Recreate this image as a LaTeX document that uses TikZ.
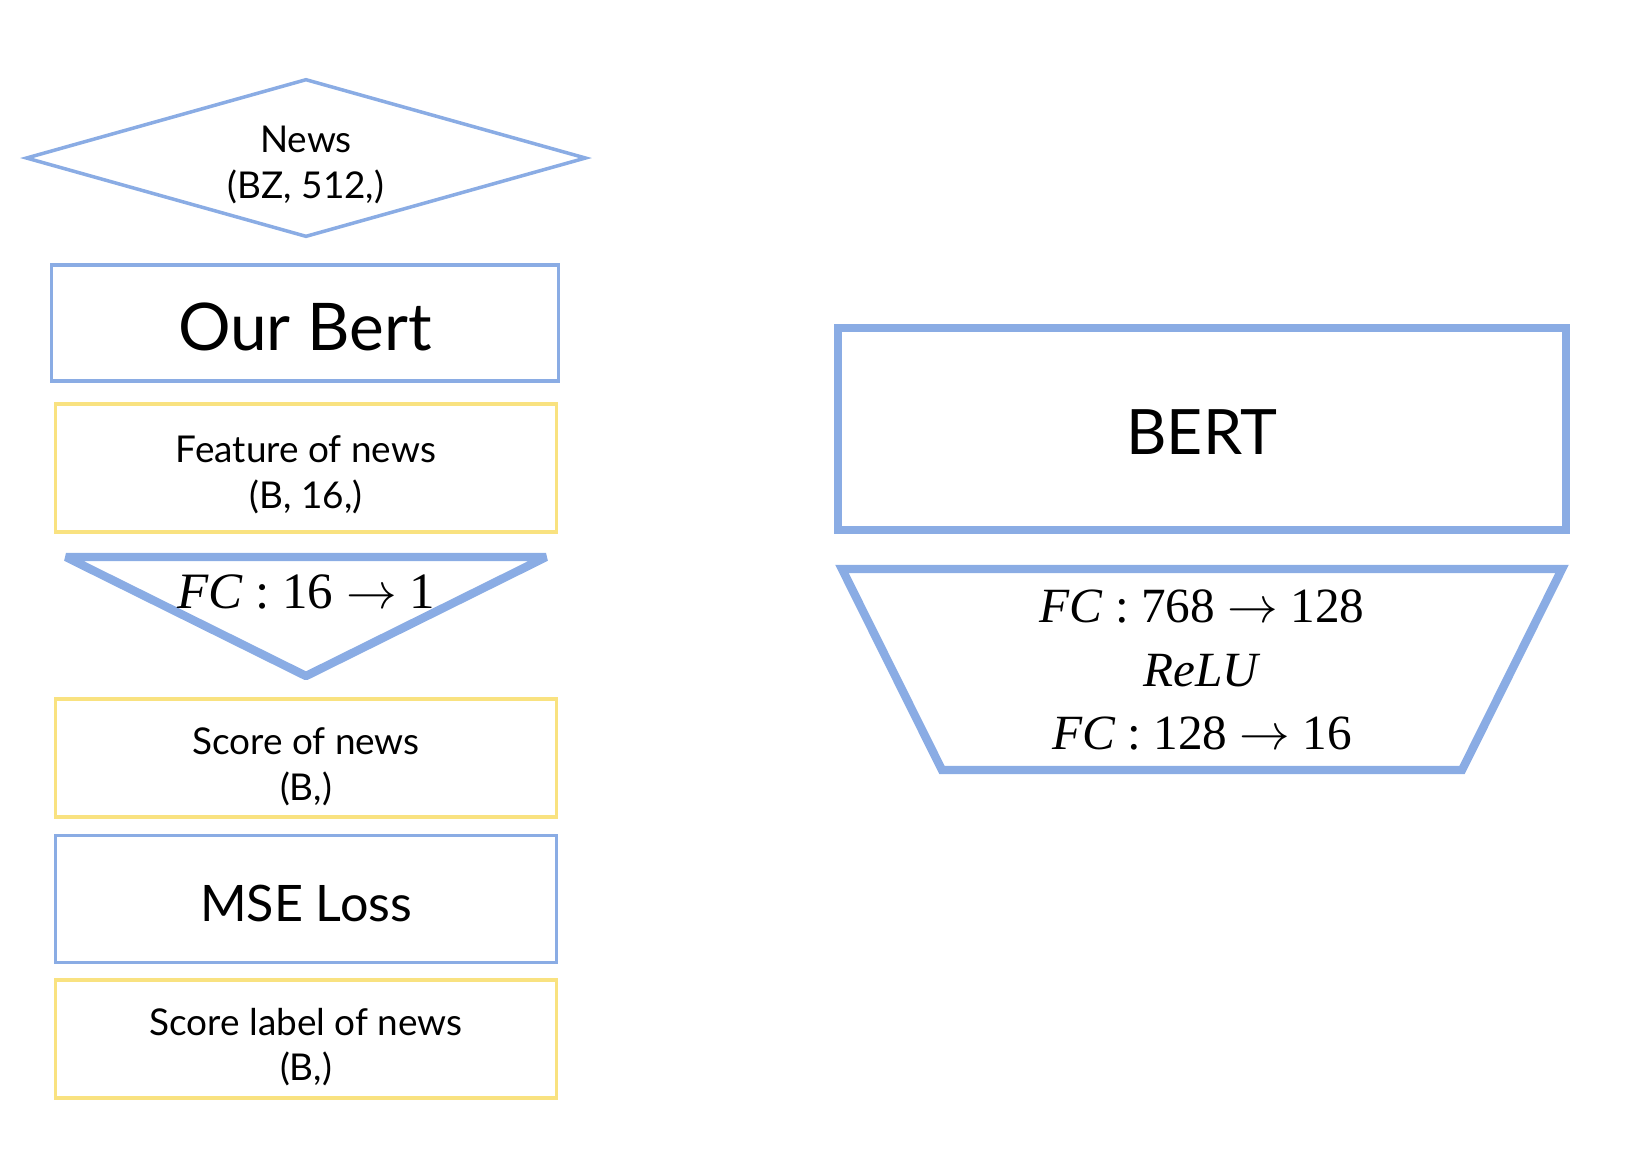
\documentclass[tikz,border=0pt]{standalone}
\usepackage{fontspec}
\setmainfont{Lato}
\newfontfamily\tnr{Liberation Serif}
\usetikzlibrary{shapes,calc,positioning}
\definecolor{boxblue}{RGB}{138,172,228}
\definecolor{boxyellow}{RGB}{249,226,128}

\begin{document}
\begin{tikzpicture}[x=0.01cm,y=-0.01cm,line cap=butt]

      \useasboundingbox (0,0) rectangle (1626,1162);

      \tikzstyle{bluebox}=[draw=boxblue, line width=1pt, rectangle];
      \tikzstyle{yellowbox}=[draw=boxyellow, line width=1pt, rectangle];
      \tikzstyle{thickline}=[draw=boxblue, line width=2.4pt];
      \tikzstyle{small}=[font=\fontsize{10.5}{13}\selectfont, align=center];
      \tikzstyle{mathtext}=[font=\tnr\fontsize{14.5}{18}\selectfont, align=center];

      % left column
      \node[draw=boxblue, line width=1pt, diamond, aspect=3.54, minimum width=5.6cm,
            minimum height=1.58cm, inner sep=0pt] (news) at (306,158) {};
      \node[small] (newstext) at (306,165) {News\\(BZ, 512,)};

      \node[bluebox, minimum width=5.07cm, minimum height=1.16cm] (ourbert) at (305,323) {};
      \node[font=\fontsize{18.7}{22}\selectfont] (ourberttext) at (305,327) {Our Bert};

      \node[yellowbox, minimum width=5.01cm, minimum height=1.28cm] (feat) at (306,468) {};
      \node[small] (feattext) at (306,475) {Feature of news\\(B, 16,)};

      \coordinate (T1) at (66,557);
      \coordinate (T2) at (546,557);
      \coordinate (T3) at (306,676);
      \draw[thickline, line join=bevel] (T1) -- (T2) -- (T3) -- cycle;
      \node[mathtext] (fcone) at (306,592) {\textit{FC} : 16 $\rightarrow$ 1};

      \node[yellowbox, minimum width=5.01cm, minimum height=1.18cm] (score) at (306,758) {};
      \node[small] (scoretext) at (306,767) {Score of news\\(B,)};

      \node[bluebox, minimum width=5.01cm, minimum height=1.27cm] (mse) at (306,899) {};
      \node[font=\fontsize{14.3}{17}\selectfont] (msetext) at (306,903) {MSE Loss};

      \node[yellowbox, minimum width=5.01cm, minimum height=1.18cm] (label) at (306,1039) {};
      \node[small] (labeltext) at (306,1047) {Score label of news\\(B,)};

      % right column
      \node[draw=boxblue, line width=2.4pt, minimum width=7.28cm, minimum height=2.02cm] (bert) at (1202,429) {};
      \node[font=\fontsize{17.8}{21}\selectfont] (berttext) at (1202,432) {BERT};

      \coordinate (P1) at (842,569);
      \coordinate (P2) at (1562,569);
      \coordinate (P3) at (1462,770);
      \coordinate (P4) at (942,770);
      \draw[thickline, line join=miter] (P1) -- (P2) -- (P3) -- (P4) -- cycle;
      \node[mathtext, font=\tnr\fontsize{14}{18}\selectfont] (fcs) at (1202,670)
            {\textit{FC} : 768 $\rightarrow$ 128\\\textit{ReLU}\\\textit{FC} : 128 $\rightarrow$ 16};
    \end{tikzpicture}
\end{document}
